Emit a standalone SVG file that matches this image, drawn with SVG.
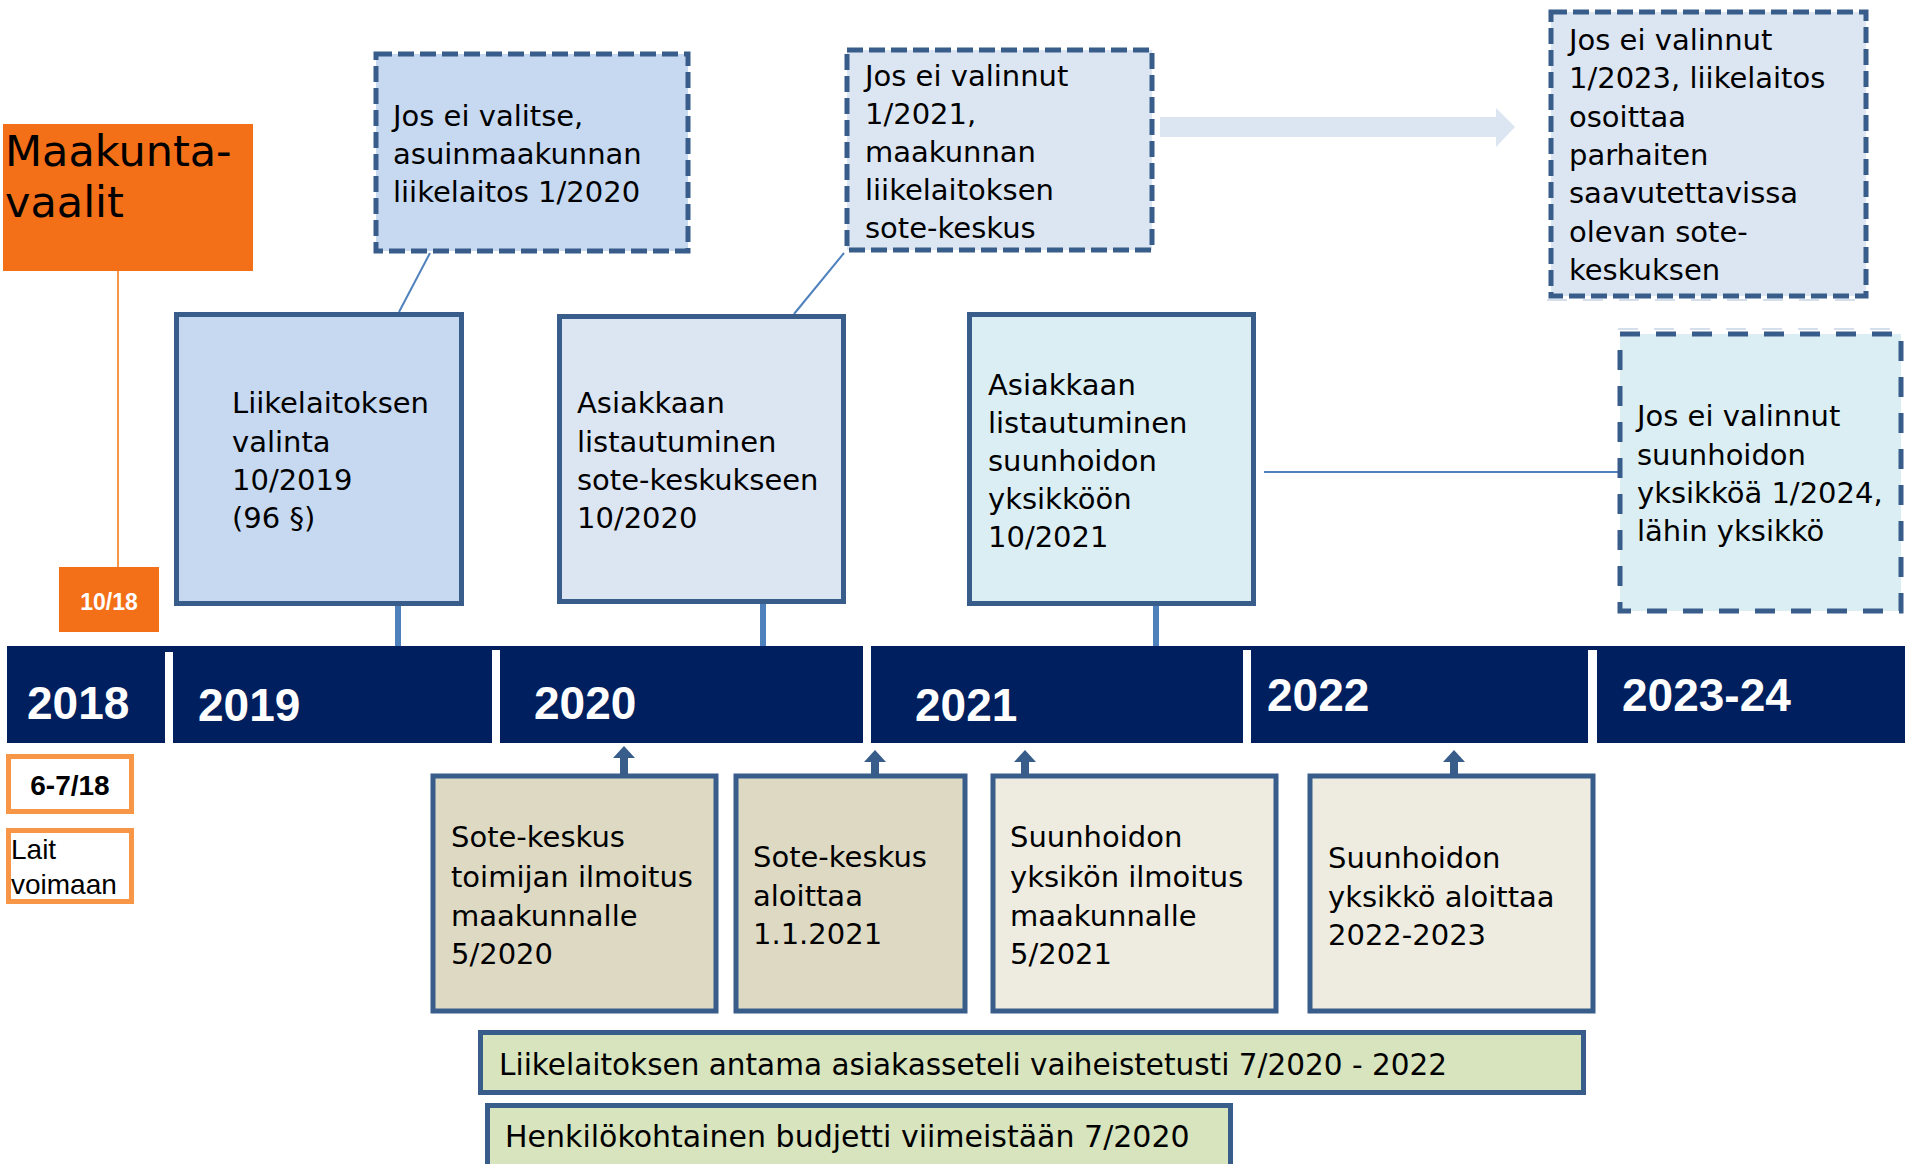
<svg xmlns="http://www.w3.org/2000/svg" width="1905" height="1164" viewBox="0 0 1905 1164">
  <style>
    .t { font-family: "DejaVu Sans", "Liberation Sans", sans-serif; font-size: 29px; fill: #000; }
    .bar { font-size: 29.5px; }
    .yr { font-family: "Liberation Sans", Arial, sans-serif; font-weight: bold; font-size: 46px; fill: #fff; }
    .box { stroke: #385D8A; stroke-width: 5; }
    .dash { stroke: #385D8A; stroke-width: 5; stroke-dasharray: 16 6; }
    .dash2 { stroke: #385D8A; stroke-width: 5; stroke-dasharray: 20 16; }
    .conn { stroke: #4F81BD; stroke-width: 2; fill: none; }
    .tick { stroke: #4F81BD; stroke-width: 6; }
    .up { stroke: #385D8A; stroke-width: 8; }
    .ghost { stroke: #D5DFEB; stroke-width: 2; stroke-dasharray: 20 16; }
  </style>
  <defs>
    <marker id="ahead" markerUnits="userSpaceOnUse" markerWidth="12" markerHeight="22" viewBox="0 0 12 22" refX="0" refY="11" orient="auto">
      <path d="M0,0 L12,11 L0,22 z" fill="#385D8A"/>
    </marker>
  </defs>
  <rect width="1905" height="1164" fill="#fff"/>

  <!-- Timeline bar -->
  <g id="timeline">
    <rect x="7" y="646" width="1898" height="97" fill="#001F5E"/>
    <rect x="165" y="652" width="8" height="91" fill="#fff"/>
    <rect x="492" y="650" width="8" height="93" fill="#fff"/>
    <rect x="863" y="646" width="8" height="97" fill="#fff"/>
    <rect x="1243" y="650" width="8" height="93" fill="#fff"/>
    <rect x="1588" y="650" width="9" height="93" fill="#fff"/>
    <text class="yr" x="27" y="719">2018</text>
    <text class="yr" x="198" y="721">2019</text>
    <text class="yr" x="534" y="719">2020</text>
    <text class="yr" x="915" y="721">2021</text>
    <text class="yr" x="1267" y="711">2022</text>
    <text class="yr" x="1622" y="711">2023-24</text>
  </g>

  <!-- Connectors -->
  <g id="connectors">
    <line x1="118" y1="271" x2="118" y2="567" stroke="#F79646" stroke-width="2"/>
    <line class="conn" x1="430" y1="253" x2="399" y2="312"/>
    <line class="conn" x1="844" y1="253" x2="794" y2="314"/>
    <line class="conn" x1="1264" y1="472" x2="1618" y2="472"/>
    <line class="tick" x1="398" y1="606" x2="398" y2="646"/>
    <line class="tick" x1="763" y1="604" x2="763" y2="646"/>
    <line class="tick" x1="1156" y1="606" x2="1156" y2="646"/>
    <line class="up" x1="624" y1="774" x2="624" y2="758" marker-end="url(#ahead)"/>
    <line class="up" x1="875" y1="774" x2="875" y2="762" marker-end="url(#ahead)"/>
    <line class="up" x1="1025" y1="774" x2="1025" y2="762" marker-end="url(#ahead)"/>
    <line class="up" x1="1454" y1="774" x2="1454" y2="762" marker-end="url(#ahead)"/>
    <polygon points="1160,117 1496,117 1496,108 1515,127 1496,147 1496,137 1160,137" fill="#DCE6F2"/>
    <line class="ghost" x1="1547" y1="300" x2="1868" y2="300"/>
    <line class="ghost" x1="1618" y1="329" x2="1905" y2="329"/>
  </g>

  <g id="maakuntavaalit">
    <rect x="3" y="124" width="250" height="147" fill="#F36F18"/>
    <text class="t" x="5" y="166" style="font-size:43px">Maakunta-</text>
    <text class="t" x="5" y="217" style="font-size:43px">vaalit</text>
  </g>

  <g id="m1018">
    <rect x="59" y="567" width="100" height="65" fill="#F36F18"/>
    <text x="109" y="610" text-anchor="middle" font-family="Liberation Sans, Arial, sans-serif" font-weight="bold" font-size="23" fill="#fff">10/18</text>
  </g>

  <g id="m67">
    <rect x="8.5" y="756.5" width="123" height="55" fill="#fff" stroke="#F79646" stroke-width="5"/>
    <text x="70" y="795" text-anchor="middle" font-family="Liberation Sans, Arial, sans-serif" font-weight="bold" font-size="28" fill="#000">6-7/18</text>
  </g>

  <g id="lait">
    <rect x="8.5" y="830.5" width="123" height="71" fill="#fff" stroke="#F79646" stroke-width="5"/>
    <text font-family="Liberation Sans, Arial, sans-serif" font-size="28" fill="#000">
      <tspan x="11" y="859">Lait</tspan>
      <tspan x="11" y="894">voimaan</tspan>
    </text>
  </g>

  <g id="dash1">
    <rect class="dash" x="376" y="54" width="312" height="197" fill="#C6D9F1"/>
    <text class="t"><tspan x="393" y="126">Jos ei valitse,</tspan><tspan x="393" y="164">asuinmaakunnan</tspan><tspan x="393" y="202">liikelaitos 1/2020</tspan></text>
  </g>

  <g id="dash2">
    <rect class="dash" x="847" y="50" width="305" height="200" fill="#DCE6F2"/>
    <text class="t"><tspan x="865" y="86">Jos ei valinnut</tspan><tspan x="865" y="124">1/2021,</tspan><tspan x="865" y="162">maakunnan</tspan><tspan x="865" y="200">liikelaitoksen</tspan><tspan x="865" y="238">sote-keskus</tspan></text>
  </g>

  <g id="dash3">
    <rect class="dash" x="1551" y="12" width="315" height="284" fill="#DCE6F2"/>
    <text class="t"><tspan x="1569" y="50">Jos ei valinnut</tspan><tspan x="1569" y="88">1/2023, liikelaitos</tspan><tspan x="1569" y="127">osoittaa</tspan><tspan x="1569" y="165">parhaiten</tspan><tspan x="1569" y="203">saavutettavissa</tspan><tspan x="1569" y="242">olevan sote-</tspan><tspan x="1569" y="280">keskuksen</tspan></text>
  </g>

  <g id="dash4">
    <rect class="dash2" x="1620" y="334" width="281" height="277" fill="#DBEEF4"/>
    <text class="t"><tspan x="1637" y="426">Jos ei valinnut</tspan><tspan x="1637" y="465">suunhoidon</tspan><tspan x="1637" y="503">yksikköä 1/2024,</tspan><tspan x="1637" y="541">lähin yksikkö</tspan></text>
  </g>

  <g id="box-valinta">
    <rect class="box" x="176.5" y="314.5" width="285" height="289" fill="#C6D9F1"/>
    <text class="t"><tspan x="232" y="413">Liikelaitoksen</tspan><tspan x="232" y="452">valinta</tspan><tspan x="232" y="490">10/2019</tspan><tspan x="232" y="528">(96 §)</tspan></text>
  </g>

  <g id="box-sote">
    <rect class="box" x="559.5" y="316.5" width="284" height="285" fill="#DCE6F2"/>
    <text class="t"><tspan x="577" y="413">Asiakkaan</tspan><tspan x="577" y="452">listautuminen</tspan><tspan x="577" y="490">sote-keskukseen</tspan><tspan x="577" y="528">10/2020</tspan></text>
  </g>

  <g id="box-suun">
    <rect class="box" x="969.5" y="314.5" width="284" height="289" fill="#DBEEF4"/>
    <text class="t"><tspan x="988" y="395">Asiakkaan</tspan><tspan x="988" y="433">listautuminen</tspan><tspan x="988" y="471">suunhoidon</tspan><tspan x="988" y="509">yksikköön</tspan><tspan x="988" y="547">10/2021</tspan></text>
  </g>

  <g id="box-a">
    <rect class="box" x="433" y="776" width="283" height="235" fill="#DDD9C3"/>
    <text class="t"><tspan x="451" y="847">Sote-keskus</tspan><tspan x="451" y="887">toimijan ilmoitus</tspan><tspan x="451" y="926">maakunnalle</tspan><tspan x="451" y="964">5/2020</tspan></text>
  </g>

  <g id="box-b">
    <rect class="box" x="736" y="776" width="229" height="235" fill="#DDD9C3"/>
    <text class="t"><tspan x="753" y="867">Sote-keskus</tspan><tspan x="753" y="906">aloittaa</tspan><tspan x="753" y="944">1.1.2021</tspan></text>
  </g>

  <g id="box-c">
    <rect class="box" x="993" y="776" width="283" height="235" fill="#EEECE1"/>
    <text class="t"><tspan x="1010" y="847">Suunhoidon</tspan><tspan x="1010" y="887">yksikön ilmoitus</tspan><tspan x="1010" y="926">maakunnalle</tspan><tspan x="1010" y="964">5/2021</tspan></text>
  </g>

  <g id="box-d">
    <rect class="box" x="1310" y="776" width="283" height="235" fill="#EEECE1"/>
    <text class="t"><tspan x="1328" y="868">Suunhoidon</tspan><tspan x="1328" y="907">yksikkö aloittaa</tspan><tspan x="1328" y="945">2022-2023</tspan></text>
  </g>

  <g id="bar-seteli">
    <rect class="box" x="480.5" y="1032.5" width="1103" height="60" fill="#D7E4BD"/>
    <text class="t bar" x="499" y="1075">Liikelaitoksen antama asiakasseteli vaiheistetusti 7/2020 - 2022</text>
  </g>

  <g id="bar-budjetti">
    <rect class="box" x="487.5" y="1105.5" width="743" height="80" fill="#D7E4BD"/>
    <text class="t" x="505" y="1147" style="font-size:30px">Henkilökohtainen budjetti viimeistään 7/2020</text>
  </g>
</svg>
